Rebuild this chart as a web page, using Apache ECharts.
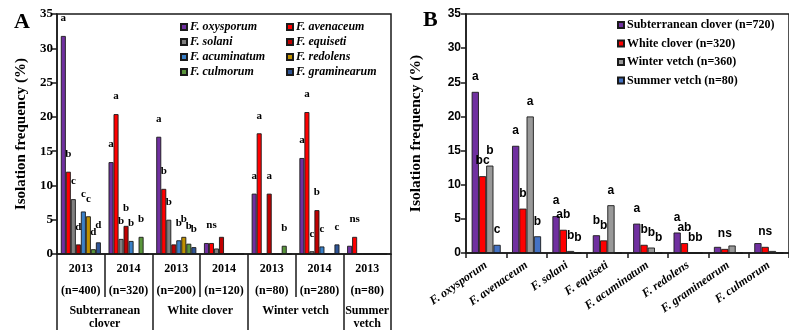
<!DOCTYPE html>
<html>
<head>
<meta charset="utf-8">
<script src="https://cdn.jsdelivr.net/npm/echarts@6/dist/echarts.min.js"></script>
<style>
  html, body { margin: 0; padding: 0; background: #fff; }
  #chart { width: 789px; height: 333px; }
</style>
</head>
<body>
<div id="chart"></div>
<script>
// ---- panel A: species per host and year ----
const years = ['2013', '2014', '2013', '2014', '2013', '2014', '2013'];
const sampleSizes = [400, 320, 200, 120, 80, 280, 80];
const hostGroups = ['Subterranean\nclover', 'White clover', 'Winter vetch', 'Summer\nvetch'];
const hostSpans = [2, 2, 2, 1];

const oxysporumA = [31.8, 13.4, 17.1, 1.6, 8.8, 14.0, 1.2];
const avenaceumA = [12.0, 20.4, 9.5, 1.6, 17.6, 20.7, 2.5];
const solaniA = [8.0, 2.2, 5.0, 0.8, 0, 0.4, 0];
const equisetiA = [1.4, 4.1, 1.4, 2.5, 8.8, 6.4, 0];
const acuminatumA = [6.2, 1.9, 2.0, 0, 0, 1.1, 0];
const redolensA = [5.5, 0, 2.5, 0, 0, 0, 0];
const culmorumA = [0.7, 2.5, 1.5, 0, 1.2, 0, 0];
const graminearumA = [1.7, 0, 1.0, 0, 0, 1.4, 0];

const oxysporumSig = ['a', 'a', 'a', '', 'a', 'a', ''];
const avenaceumSig = ['b', 'a', 'b', 'ns', 'a', 'a', 'ns'];
const solaniSig = ['c', 'b', 'b', '', '', 'c', ''];
const equisetiSig = ['d', 'b', '', '', 'a', 'b', ''];
const acuminatumSig = ['c', 'b', 'b', '', '', 'c', ''];
const redolensSig = ['c', '', 'b', '', '', '', ''];
const culmorumSig = ['d', 'b', 'b', '', 'b', '', ''];
const graminearumSig = ['d', '', 'b', '', '', 'c', ''];

// ---- panel B: species per host, years pooled ----
const fungi = ['F. oxysporum', 'F. avenaceum', 'F. solani', 'F. equiseti',
  'F. acuminatum', 'F. redolens', 'F. graminearum', 'F. culmorum'];
const subClover = [23.6, 15.7, 5.4, 2.6, 4.3, 3.0, 0.9, 1.45];
const whiteClover = [11.25, 6.5, 3.4, 1.85, 1.2, 1.45, 0.6, 0.9];
const winterVetch = [12.8, 20.0, 0.3, 7.0, 0.8, 0, 1.1, 0.3];
const summerVetch = [1.2, 2.45, 0, 0, 0, 0, 0, 0];

const subCloverSig = ['a', 'a', 'a', 'b', 'a', 'a', '', ''];
const whiteCloverSig = ['bc', 'b', 'ab', 'b', 'b', 'ab', 'ns', 'ns'];
const winterVetchSig = ['b', 'a', 'b', 'a', 'b', 'b', '', ''];
const summerVetchSig = ['c', 'b', 'b', '', 'b', 'b', '', ''];

const serif = { fontFamily: 'Liberation Serif', fontWeight: 'bold', color: '#000' };
const sans = { fontFamily: 'Liberation Sans', fontWeight: 'bold', color: '#000' };
const ink = '#1a1a1a';

// group boundaries and centres on a 0..7 value axis under panel A
const hostEdges = [0];
hostSpans.forEach(s => hostEdges.push(hostEdges[hostEdges.length - 1] + s));
const hostCentres = hostSpans.map((s, i) => hostEdges[i] + s / 2);

function barA(name, values, sig, color) {
  return {
    name, type: 'bar', xAxisIndex: 0, yAxisIndex: 0,
    data: values, barGap: 0, barCategoryGap: '16%',
    itemStyle: { color, borderColor: ink, borderWidth: 0.9 },
    label: {
      show: true, position: 'top', distance: 12, ...serif, fontSize: 11,
      formatter: p => sig[p.dataIndex]
    }
  };
}

function barB(name, values, sig, color) {
  return {
    name, type: 'bar', xAxisIndex: 2, yAxisIndex: 1,
    data: values, barGap: 0, barCategoryGap: '28%',
    itemStyle: { color, borderColor: ink, borderWidth: 0.9 },
    label: {
      show: true, position: 'top', distance: 9, ...sans, fontSize: 12,
      formatter: p => sig[p.dataIndex]
    }
  };
}

const chart = echarts.init(document.getElementById('chart'));

chart.setOption({
  animation: false,
  title: [
    { text: 'A', left: 9, top: 6, textStyle: { ...serif, fontSize: 22 } },
    { text: 'B', left: 418, top: 4, textStyle: { ...serif, fontSize: 22 } }
  ],
  legend: [
    {
      orient: 'vertical', left: 180, top: 21, padding: 0, itemGap: 3,
      itemWidth: 6, itemHeight: 6, icon: 'rect',
      data: ['F. oxysporum', 'F. solani', 'F. acuminatum', 'F. culmorum'],
      textStyle: { ...serif, fontStyle: 'italic', fontSize: 12, padding: [0, 0, 0, -2] }
    },
    {
      orient: 'vertical', left: 286, top: 21, padding: 0, itemGap: 3,
      itemWidth: 6, itemHeight: 6, icon: 'rect',
      data: ['F. avenaceum', 'F. equiseti', 'F. redolens', 'F. graminearum'],
      textStyle: { ...serif, fontStyle: 'italic', fontSize: 12, padding: [0, 0, 0, -2] }
    },
    {
      orient: 'vertical', left: 617, top: 19, padding: 0, itemGap: 6.5,
      itemWidth: 6, itemHeight: 6, icon: 'rect',
      data: ['Subterranean clover (n=720)', 'White clover (n=320)',
        'Winter vetch (n=360)', 'Summer vetch (n=80)'],
      textStyle: { ...serif, fontSize: 12, padding: [0, 0, 0, -2] }
    }
  ],
  grid: [
    { left: 57, top: 14, width: 334, height: 240, show: true, borderColor: ink, borderWidth: 1.5 },
    { left: 466, top: 14, width: 333, height: 239, show: true, borderColor: ink, borderWidth: 1.5 }
  ],
  xAxis: [
    {
      gridIndex: 0, type: 'category',
      data: years.map((y, i) => y + '\n(n=' + sampleSizes[i] + ')'),
      axisLine: { lineStyle: { color: ink, width: 1.5 } },
      axisTick: { show: true, interval: 0, length: 43, lineStyle: { color: ink, width: 1.5 } },
      axisLabel: { interval: 0, margin: 4, lineHeight: 22, ...serif, fontSize: 12 }
    },
    {
      gridIndex: 0, type: 'value', min: 0, max: hostEdges[hostEdges.length - 1],
      position: 'bottom',
      axisLine: { show: false },
      splitLine: { show: false },
      axisTick: { show: true, customValues: hostEdges, length: 76, lineStyle: { color: ink, width: 1.5 } },
      axisLabel: {
        customValues: hostCentres, margin: 50, lineHeight: 13, ...serif, fontSize: 12,
        formatter: v => hostGroups[hostCentres.indexOf(v)] || ''
      }
    },
    {
      gridIndex: 1, type: 'category', data: fungi,
      axisLine: { lineStyle: { color: ink, width: 1.5 } },
      axisTick: { show: true, interval: 0, length: 5, lineStyle: { color: ink, width: 1.5 } },
      axisLabel: { interval: 0, rotate: 35, margin: 11, ...serif, fontStyle: 'italic', fontSize: 12 }
    }
  ],
  yAxis: [
    {
      gridIndex: 0, type: 'value', min: 0, max: 35, interval: 5,
      name: 'Isolation frequency (%)', nameLocation: 'middle', nameGap: 28,
      nameTextStyle: { ...serif, fontSize: 15 },
      axisLine: { show: true, lineStyle: { color: ink, width: 1.5 } },
      axisTick: { show: true, length: 5, lineStyle: { color: ink, width: 1.5 } },
      axisLabel: { margin: 4, ...serif, fontSize: 13 },
      splitLine: { show: false }
    },
    {
      gridIndex: 1, type: 'value', min: 0, max: 35, interval: 5,
      name: 'Isolation frequency (%)', nameLocation: 'middle', nameGap: 42,
      nameTextStyle: { ...serif, fontSize: 15.5 },
      axisLine: { show: true, lineStyle: { color: ink, width: 1.5 } },
      axisTick: { show: true, length: 5, lineStyle: { color: ink, width: 1.5 } },
      axisLabel: { margin: 5, ...sans, fontSize: 12 },
      splitLine: { show: false }
    }
  ],
  series: [
    barA('F. oxysporum', oxysporumA, oxysporumSig, '#7030A0'),
    barA('F. avenaceum', avenaceumA, avenaceumSig, '#FF0000'),
    barA('F. solani', solaniA, solaniSig, '#808080'),
    barA('F. equiseti', equisetiA, equisetiSig, '#C00000'),
    barA('F. acuminatum', acuminatumA, acuminatumSig, '#3A80C8'),
    barA('F. redolens', redolensA, redolensSig, '#BF9000'),
    barA('F. culmorum', culmorumA, culmorumSig, '#5A963C'),
    barA('F. graminearum', graminearumA, graminearumSig, '#2F5597'),
    barB('Subterranean clover (n=720)', subClover, subCloverSig, '#7030A0'),
    barB('White clover (n=320)', whiteClover, whiteCloverSig, '#FF0000'),
    barB('Winter vetch (n=360)', winterVetch, winterVetchSig, '#999999'),
    barB('Summer vetch (n=80)', summerVetch, summerVetchSig, '#4472C4')
  ]
});
</script>
</body>
</html>
